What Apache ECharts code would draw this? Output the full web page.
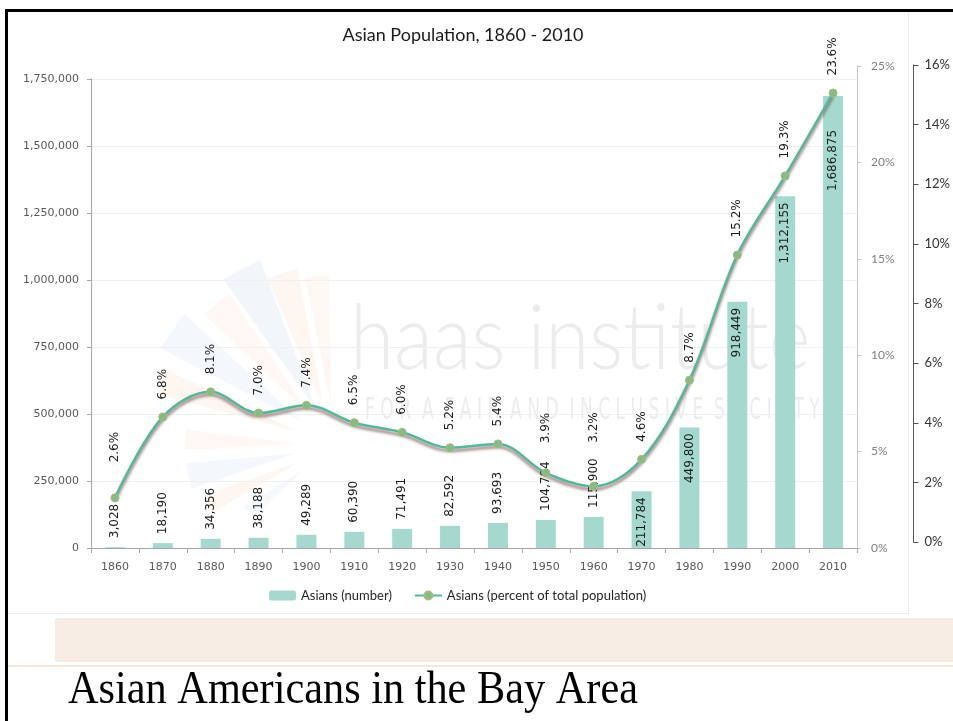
<!DOCTYPE html>
<html><head><meta charset="utf-8">
<script src="https://cdn.jsdelivr.net/npm/echarts@6/dist/echarts.min.js"></script>
<style>html,body{margin:0;padding:0;background:#fff}#c{width:953px;height:721px}</style>
</head><body><div id="c"></div>
<script>
// ---- data ----
const years = ['1860','1870','1880','1890','1900','1910','1920','1930','1940','1950','1960','1970','1980','1990','2000','2010'];
const asianNumber = [3028, 18190, 34356, 38188, 49289, 60390, 71491, 82592, 93693, 104794, 115900, 211784, 449800, 918449, 1312155, 1686875];
const asianPercent = [2.6, 6.8, 8.1, 7.0, 7.4, 6.5, 6.0, 5.2, 5.4, 3.9, 3.2, 4.6, 8.7, 15.2, 19.3, 23.6];
const seriesNames = ['Asians (number)', 'Asians (percent of total population)'];
const leftAxisMax = 1750000, leftAxisStep = 250000;
const pctAxisMax = 25, pctAxisStep = 5;
const extraAxisMax = 16, extraAxisStep = 2;

// ---- styles ----
const barColor = '#a5d9cf';
const lineColor = '#52b899';
const labelFont = 'DejaVu Sans';
const pctGapSpecial = {0: 31, 9: 25, 10: 39};
const barInsideGapSpecial = {15: 34};

const barData = asianNumber.map((v, i) => {
  const inside = v > 150000;
  return {
    value: v,
    label: inside
      ? {position: 'insideTop', align: 'right', verticalAlign: 'middle', distance: barInsideGapSpecial[i] || 6}
      : {position: 'top', align: 'left', verticalAlign: 'middle', distance: 9}
  };
});
const lineData = asianPercent.map((v, i) => ({
  value: v,
  label: {distance: pctGapSpecial[i] || 13}
}));

const chart = echarts.init(document.getElementById('c'), null, {renderer: 'canvas'});

// faint decorative logo rays of the watermark
const rays = [];
const rayCenter = [335, 445];
const rayDefs = [
  [205, 140, 'rgba(240,170,120,0.10)', 4],
  [192, 150, 'rgba(150,185,225,0.10)', 5],
  [178, 150, 'rgba(240,170,120,0.09)', 4],
  [160, 185, 'rgba(240,170,120,0.10)', 4],
  [145, 200, 'rgba(150,185,225,0.10)', 6],
  [130, 185, 'rgba(240,170,120,0.09)', 5],
  [118, 200, 'rgba(150,185,225,0.12)', 6],
  [107, 180, 'rgba(240,170,120,0.10)', 5],
  [96, 170, 'rgba(240,170,120,0.08)', 4],
  [218, 110, 'rgba(150,185,225,0.09)', 4]
];
rayDefs.forEach(([ang, len, col, half]) => {
  const a = ang * Math.PI / 180, h = half * Math.PI / 180;
  const p1 = [rayCenter[0] + Math.cos(a - h) * len, rayCenter[1] - Math.sin(a - h) * len];
  const p2 = [rayCenter[0] + Math.cos(a + h) * len, rayCenter[1] - Math.sin(a + h) * len];
  const p0 = [rayCenter[0] + Math.cos(a) * 40, rayCenter[1] - Math.sin(a) * 40];
  rays.push({type: 'polygon', z: -5, shape: {points: [p0, p1, p2]}, style: {fill: col}});
});

const option = {
  backgroundColor: '#ffffff',
  animation: false,
  title: {
    text: 'Asian Population, 1860 - 2010',
    left: 458, top: 21, textAlign: 'center',
    textStyle: {fontFamily: 'Lato', fontSize: 18, fontWeight: 'normal', color: '#1a1a1a'}
  },
  legend: {
    left: 264, top: 584,
    itemWidth: 27, itemHeight: 10, itemGap: 22,
    textStyle: {fontFamily: 'Lato', fontSize: 13, color: '#262626'},
    data: [seriesNames[0], seriesNames[1]]
  },
  grid: [
    {left: 91, right: 96, top: 79, bottom: 173},
    {left: 91, right: 96, top: 66, bottom: 173},
    {left: 91, right: 36, top: 65, bottom: 179}
  ],
  xAxis: [
    {
      type: 'category', gridIndex: 0, data: years, boundaryGap: true,
      axisLine: {lineStyle: {color: '#a6a6a6'}},
      axisTick: {show: true, length: 5, lineStyle: {color: '#a6a6a6'}},
      axisLabel: {fontFamily: labelFont, fontSize: 11, color: '#595959', margin: 14}
    },
    {type: 'category', gridIndex: 1, data: years, boundaryGap: true, show: false},
    {type: 'category', gridIndex: 2, data: years, show: false}
  ],
  yAxis: [
    {
      type: 'value', gridIndex: 0, min: 0, max: leftAxisMax, interval: leftAxisStep,
      axisLine: {show: true, lineStyle: {color: '#a6a6a6'}},
      axisTick: {show: true, length: 4, lineStyle: {color: '#a6a6a6'}},
      axisLabel: {fontFamily: labelFont, fontSize: 11, color: '#595959', margin: 12,
        formatter: v => v.toLocaleString('en-US')},
      splitLine: {show: true, lineStyle: {color: '#f0f0f0'}}
    },
    {
      type: 'value', gridIndex: 1, position: 'right', min: 0, max: pctAxisMax, interval: pctAxisStep,
      axisLine: {show: true, lineStyle: {color: '#c4c4c4'}},
      axisTick: {show: true, length: 4, lineStyle: {color: '#c4c4c4'}},
      axisLabel: {fontFamily: 'Lato', fontSize: 12, color: '#808080', margin: 14, formatter: '{value}%'},
      splitLine: {show: false}
    },
    {
      type: 'value', gridIndex: 2, position: 'right', min: 0, max: extraAxisMax, interval: extraAxisStep,
      axisLine: {show: true, lineStyle: {color: '#555555'}},
      axisTick: {show: true, length: 5, lineStyle: {color: '#555555'}},
      axisLabel: {fontFamily: 'Lato', fontSize: 13, color: '#333333', margin: 11, formatter: '{value}%'},
      splitLine: {show: false}
    }
  ],
  series: [
    {
      name: seriesNames[0], type: 'bar', xAxisIndex: 0, yAxisIndex: 0,
      barWidth: 20, z: 2,
      itemStyle: {color: barColor},
      label: {show: true, rotate: 90, fontFamily: labelFont, fontSize: 12, color: '#1a1a1a',
        formatter: p => p.value.toLocaleString('en-US')},
      data: barData
    },
    {
      name: seriesNames[1], type: 'line', xAxisIndex: 1, yAxisIndex: 1,
      smooth: 0.35, z: 4,
      symbol: 'circle', symbolSize: 8,
      itemStyle: {color: '#86bb84', borderColor: '#9fbf7a', borderWidth: 1},
      lineStyle: {color: lineColor, width: 2.5, shadowColor: 'rgba(110,70,70,0.75)', shadowBlur: 3, shadowOffsetY: 3},
      label: {show: true, position: 'top', rotate: 90, align: 'left', verticalAlign: 'middle',
        fontFamily: labelFont, fontSize: 12, color: '#1a1a1a',
        formatter: p => p.value.toFixed(1) + '%'},
      data: lineData
    }
  ],
  graphic: [
    {type: 'rect', z: 50, shape: {x: 5, y: 9, width: 948, height: 3}, style: {fill: '#000'}},
    {type: 'rect', z: 50, shape: {x: 5, y: 9, width: 3, height: 712}, style: {fill: '#000'}},
    {type: 'rect', z: -10, shape: {x: 908, y: 12, width: 1, height: 601}, style: {fill: '#ececec'}},
    {type: 'rect', z: -10, shape: {x: 8, y: 613, width: 901, height: 1}, style: {fill: '#ececec'}},
    {type: 'rect', z: -10, shape: {x: 55, y: 618, width: 898, height: 44}, style: {fill: '#f8ede5'}},
    {type: 'rect', z: -10, shape: {x: 8, y: 665, width: 945, height: 2}, style: {fill: '#f6e6dc'}},
    ...rays,
    {type: 'text', z: -4, x: 350, y: 385, scaleX: 0.89,
      style: {text: 'haas institute', fontFamily: 'Lato', fontWeight: 300, fontSize: 90, fill: 'rgba(200,200,200,0.35)', verticalAlign: 'bottom'}},
    {type: 'text', z: -4, x: 365, y: 426, scaleX: 0.57,
      style: {text: 'F O R  A  F A I R  A N D  I N C L U S I V E  S O C I E T Y', fontFamily: 'DejaVu Sans', fontSize: 30, fill: 'rgba(200,200,200,0.35)', verticalAlign: 'bottom'}},
    {type: 'text', z: 50, x: 68, y: 691, scaleX: 0.92,
      style: {text: 'Asian Americans in the Bay Area', fontFamily: 'Liberation Serif', fontSize: 46, fill: '#000', verticalAlign: 'middle'}}
  ]
};
chart.setOption(option);
</script>
</body></html>
